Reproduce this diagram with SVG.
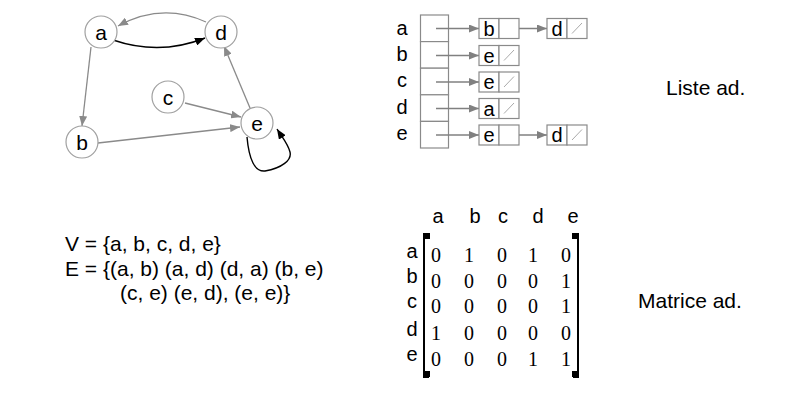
<svg xmlns="http://www.w3.org/2000/svg" width="804" height="401" viewBox="0 0 804 401">
<style>
text{font-family:"Liberation Sans",Arial,sans-serif;fill:#000}
.nl{font-size:21px;text-anchor:middle}
.lt{font-size:20px;text-anchor:middle}
.big{font-size:21px}
.num{font-family:"Liberation Serif","Times New Roman",serif;font-size:20px;text-anchor:middle}
.node{fill:#fff;stroke:#a0a0a0;stroke-width:1.2}
.eg{fill:none;stroke:#8a8a8a;stroke-width:1.3}
.eb{fill:none;stroke:#000;stroke-width:1.4}
.cell{fill:#fff;stroke:#8a8a8a;stroke-width:1.2}
.la{fill:none;stroke:#808080;stroke-width:1.3}
.sl{stroke:#aaa;stroke-width:1}
.br{fill:none;stroke:#000;stroke-width:2}
</style>
<defs>
<marker id="ag" viewBox="0 0 10 8" refX="10" refY="4" markerWidth="10" markerHeight="8" markerUnits="userSpaceOnUse" orient="auto"><path d="M0,0 L10,4 L0,8 z" fill="#8a8a8a"/></marker>
<marker id="ab" viewBox="0 0 10 8" refX="10" refY="4" markerWidth="10" markerHeight="8" markerUnits="userSpaceOnUse" orient="auto"><path d="M0,0 L10,4 L0,8 z" fill="#000"/></marker>
<marker id="al" viewBox="0 0 10 8" refX="10" refY="4" markerWidth="10" markerHeight="8" markerUnits="userSpaceOnUse" orient="auto"><path d="M0,0 L10,4 L0,8 z" fill="#808080"/></marker>
</defs>
<g id="connectors">
<path class="eg" d="M206,22 Q162,2 118,26" marker-end="url(#ag)"/>
<path class="eb" d="M113,40 Q160,56 205,38" marker-end="url(#ab)"/>
<path class="eg" d="M91,47 L82,126" marker-end="url(#ag)"/>
<path class="eg" d="M185,103 L241,117" marker-end="url(#ag)"/>
<path class="eg" d="M98,143 L240,127" marker-end="url(#ag)"/>
<path class="eg" d="M250,108 L224,46" marker-end="url(#ag)"/>
<path class="eb" d="M247,137 C249,160 255,172 265,171 C282,168 292,160 290,152 C288,144 282,137 277,129" marker-end="url(#ab)"/>
</g>
<g id="node-a"><circle class="node" cx="101" cy="32" r="16"/><text class="nl" x="101" y="39.5">a</text></g>
<g id="node-d"><circle class="node" cx="221" cy="32" r="16"/><text class="nl" x="221" y="39.5">d</text></g>
<g id="node-c"><circle class="node" cx="168" cy="97" r="16"/><text class="nl" x="168" y="104.5">c</text></g>
<g id="node-e"><circle class="node" cx="257" cy="123" r="16"/><text class="nl" x="257" y="130.5">e</text></g>
<g id="node-b"><circle class="node" cx="82" cy="142" r="16"/><text class="nl" x="82" y="149.5">b</text></g>

<g id="sets">
<text class="big" x="65" y="251">V = {a, b, c, d, e}</text>
<text class="big" x="65" y="276">E = {(a, b) (a, d) (d, a) (b, e)</text>
<text class="big" x="120" y="300">(c, e) (e, d), (e, e)}</text>
</g>

<g id="adj-list">
<text class="lt" x="402" y="35">a</text>
<text class="lt" x="402" y="61">b</text>
<text class="lt" x="402" y="87">c</text>
<text class="lt" x="402" y="114">d</text>
<text class="lt" x="402" y="140">e</text>
<rect class="cell" x="420.5" y="15" width="28" height="26.6"/>
<rect class="cell" x="420.5" y="41.6" width="28" height="26.6"/>
<rect class="cell" x="420.5" y="68.2" width="28" height="26.6"/>
<rect class="cell" x="420.5" y="94.8" width="28" height="26.6"/>
<rect class="cell" x="420.5" y="121.4" width="28" height="26.6"/>
<g id="list-arrows">
<path class="la" d="M436,28.5 H479" marker-end="url(#al)"/>
<path class="la" d="M436,55.5 H479" marker-end="url(#al)"/>
<path class="la" d="M436,82 H479" marker-end="url(#al)"/>
<path class="la" d="M436,108.5 H479" marker-end="url(#al)"/>
<path class="la" d="M436,135 H479" marker-end="url(#al)"/>
<path class="la" d="M508,28.5 H547" marker-end="url(#al)"/>
<path class="la" d="M508,135 H547" marker-end="url(#al)"/>
</g>
<g id="list-a-b"><rect class="cell" x="479" y="18.5" width="20" height="20"/><rect class="cell" x="499" y="18.5" width="20" height="20"/><text class="lt" x="489" y="35.5">b</text></g>
<g id="list-a-d"><rect class="cell" x="547" y="18.5" width="20" height="20"/><rect class="cell" x="567" y="18.5" width="20" height="20"/><text class="lt" x="557" y="35.5">d</text><line class="sl" x1="572" y1="33.5" x2="582" y2="23"/></g>
<g id="list-b-e"><rect class="cell" x="479" y="45.5" width="20" height="20"/><rect class="cell" x="499" y="45.5" width="20" height="20"/><text class="lt" x="489" y="62.5">e</text><line class="sl" x1="504" y1="60.5" x2="514" y2="50"/></g>
<g id="list-c-e"><rect class="cell" x="479" y="72" width="20" height="20"/><rect class="cell" x="499" y="72" width="20" height="20"/><text class="lt" x="489" y="89">e</text><line class="sl" x1="504" y1="87" x2="514" y2="76.5"/></g>
<g id="list-d-a"><rect class="cell" x="479" y="98.5" width="20" height="20"/><rect class="cell" x="499" y="98.5" width="20" height="20"/><text class="lt" x="489" y="115.5">a</text><line class="sl" x1="504" y1="113.5" x2="514" y2="103"/></g>
<g id="list-e-e"><rect class="cell" x="479" y="125" width="20" height="20"/><rect class="cell" x="499" y="125" width="20" height="20"/><text class="lt" x="489" y="142">e</text></g>
<g id="list-e-d"><rect class="cell" x="547" y="125" width="20" height="20"/><rect class="cell" x="567" y="125" width="20" height="20"/><text class="lt" x="557" y="142">d</text><line class="sl" x1="572" y1="140" x2="582" y2="129.5"/></g>
</g>
<text class="big" x="666" y="95">Liste ad.</text>

<g id="adj-matrix">
<text class="lt" x="438" y="223">a</text>
<text class="lt" x="475" y="223">b</text>
<text class="lt" x="503" y="223">c</text>
<text class="lt" x="538" y="223">d</text>
<text class="lt" x="573" y="223">e</text>
<text class="lt" x="412" y="258">a</text>
<text class="lt" x="412" y="283">b</text>
<text class="lt" x="412" y="308">c</text>
<text class="lt" x="412" y="336">d</text>
<text class="lt" x="412" y="361">e</text>
<path class="br" d="M429,234 H424 V377 H429"/>
<rect x="423" y="233" width="7" height="6" fill="#000"/>
<rect x="423" y="371" width="7" height="6" fill="#000"/>
<path class="br" d="M573,234 H578 V377 H573"/>
<rect x="572" y="233" width="7" height="6" fill="#000"/>
<rect x="572" y="371" width="7" height="6" fill="#000"/>
<text class="num" x="436" y="262">0</text><text class="num" x="469" y="262">1</text><text class="num" x="502" y="262">0</text><text class="num" x="533" y="262">1</text><text class="num" x="566" y="262">0</text>
<text class="num" x="436" y="288">0</text><text class="num" x="469" y="288">0</text><text class="num" x="502" y="288">0</text><text class="num" x="533" y="288">0</text><text class="num" x="566" y="288">1</text>
<text class="num" x="436" y="313">0</text><text class="num" x="469" y="313">0</text><text class="num" x="502" y="313">0</text><text class="num" x="533" y="313">0</text><text class="num" x="566" y="313">1</text>
<text class="num" x="436" y="340">1</text><text class="num" x="469" y="340">0</text><text class="num" x="502" y="340">0</text><text class="num" x="533" y="340">0</text><text class="num" x="566" y="340">0</text>
<text class="num" x="436" y="366">0</text><text class="num" x="469" y="366">0</text><text class="num" x="502" y="366">0</text><text class="num" x="533" y="366">1</text><text class="num" x="566" y="366">1</text>
</g>
<text class="big" x="638" y="308">Matrice ad.</text>
</svg>
